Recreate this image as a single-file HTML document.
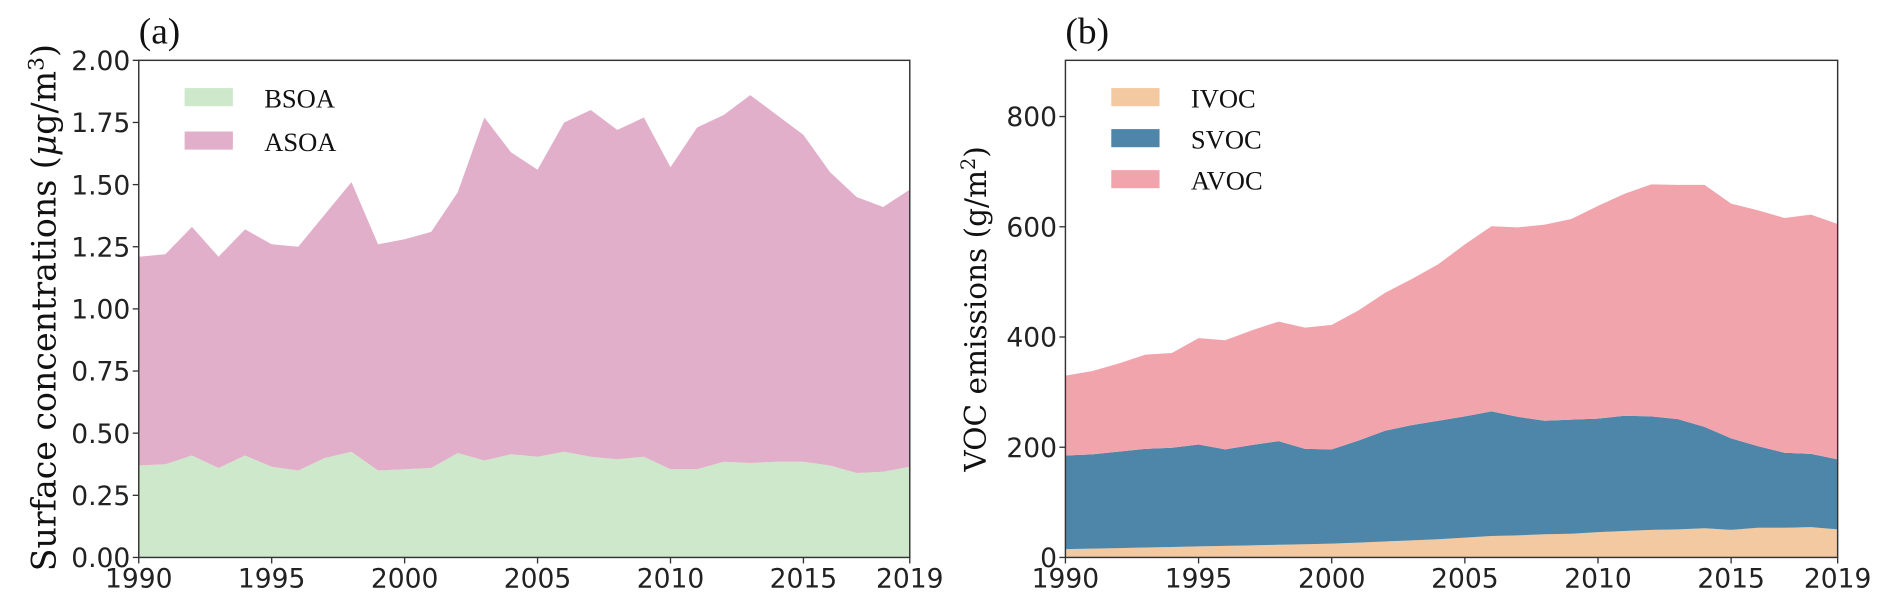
<!DOCTYPE html>
<html><head><meta charset="utf-8"><style>body{margin:0;background:#fff}svg{display:block}</style></head>
<body>
<svg id="c" width="1892" height="609" xmlns="http://www.w3.org/2000/svg">
<g transform="scale(1.2066)">
<g id="pa"></g>
<g id="pb"></g>
</g>
</svg>
<script>
const years = [1990,1991,1992,1993,1994,1995,1996,1997,1998,1999,2000,2001,2002,2003,2004,2005,2006,2007,2008,2009,2010,2011,2012,2013,2014,2015,2016,2017,2018,2019];
const bsoa = [0.37,0.375,0.41,0.36,0.41,0.365,0.35,0.40,0.425,0.35,0.355,0.36,0.42,0.39,0.415,0.405,0.425,0.405,0.395,0.405,0.355,0.355,0.385,0.38,0.385,0.385,0.37,0.34,0.345,0.365];
const asoa = [0.84,0.845,0.92,0.85,0.91,0.895,0.90,0.98,1.085,0.91,0.925,0.95,1.05,1.38,1.215,1.155,1.325,1.395,1.325,1.365,1.215,1.375,1.395,1.48,1.395,1.315,1.18,1.11,1.065,1.115];
const ivoc = [15,16,17,18,19,20,21,22,23,24,25,27,29,31,33,36,39,40,42,43,46,48,50,51,53,50,54,54,55,51];
const svoc = [170,171,175,179,180,185,175,182,188,173,171,185,201,209,215,220,226,215,206,207,206,209,206,200,184,166,148,136,133,127];
const avoc = [145,151,160,171,172,193,198,208,217,220,226,236,250,265,284,312,336,344,356,364,386,403,421,425,439,426,428,426,434,427];
const xTicks = [1990,1995,2000,2005,2010,2015,2019];
const yTicksA = ["0.00","0.25","0.50","0.75","1.00","1.25","1.50","1.75","2.00"];
const yTicksB = [0,200,400,600,800];

const NS="http://www.w3.org/2000/svg";
function mk(parent,tag,attrs,text){const e=document.createElementNS(NS,tag);for(const k in attrs)e.setAttribute(k,attrs[k]);if(text!==undefined)e.textContent=text;parent.appendChild(e);return e;}
const SANS='"DejaVu Sans","Liberation Sans",sans-serif', SERIF='"Liberation Serif","DejaVu Serif",serif', DSERIF='"DejaVu Serif","Liberation Serif",serif';

function panel(g,cfg){
  const {x0,x1,y0,y1,ymax}=cfg;
  const sx=v=>x0+(v-1990)/(2019-1990)*(x1-x0);
  const sy=v=>y1-v/ymax*(y1-y0);
  let base=years.map(()=>0);
  cfg.series.forEach(s=>{
    const top=base.map((b,i)=>b+s.vals[i]);
    let d='M'+years.map((y,i)=>sx(y)+','+sy(top[i])).join('L');
    for(let i=years.length-1;i>=0;i--) d+='L'+sx(years[i])+','+sy(base[i]);
    const p=mk(g,'path',{d:d+'Z',fill:s.color});
    
    
    base=top;
  });
  const fr=mk(g,'rect',{x:x0,y:y0,width:x1-x0,height:y1-y0,fill:'none',stroke:'#333','stroke-width':1.2});
  
  
  xTicks.forEach(t=>{
    mk(g,'line',{x1:sx(t),x2:sx(t),y1:y1,y2:y1+5,stroke:'#333','stroke-width':1.1});
    const tx=mk(g,'text',{x:sx(t),y:y1+25,'text-anchor':'middle','font-family':SANS,'font-size':22,fill:'#222'},t);
    
    
  });
  cfg.yt.forEach(t=>{
    const v=parseFloat(t);
    mk(g,'line',{x1:x0-5,x2:x0,y1:sy(v),y2:sy(v),stroke:'#333','stroke-width':1.1});
    const tx=mk(g,'text',{x:x0-7,y:sy(v)+8,'text-anchor':'end','font-family':SANS,'font-size':22,fill:'#222'},String(t));
    
    
  });
  const lbl=mk(g,'text',{x:x0,y:y0-14,'font-family':SERIF,'font-size':31,fill:'#111'},cfg.label);
  
  
  const yl=mk(g,'text',{transform:`translate(${cfg.ylx},${cfg.ylc}) rotate(-90)`,'text-anchor':'middle','font-family':DSERIF,'font-size':cfg.ylfs,fill:'#111'});
  yl.innerHTML=cfg.ytitle;
  
  
  cfg.series.forEach((s,i)=>{
    const ly=cfg.legY+i*cfg.legDy;
    const r=mk(g,'rect',{x:x0+cfg.legX,y:ly-9,width:40,height:15,fill:s.color});
    
    
    const t=mk(g,'text',{x:x0+cfg.legX+66,y:ly+7,'font-family':SERIF,'font-size':22,fill:'#111'},s.label);
    
    
  });
}
panel(document.getElementById('pa'),{x0:115,x1:754,y0:50,y1:462,ymax:2.0,yt:yTicksA,label:'(a)',ylx:46,ylc:255,ylfs:27.5,
  ytitle:'Surface concentrations (<tspan font-style="italic">μ</tspan>g/m<tspan baseline-shift="super" font-size="18">3</tspan>)',
  legX:38,legY:82,legDy:36,
  series:[{name:'bsoa',label:'BSOA',vals:bsoa,color:'#cde8cb'},{name:'asoa',label:'ASOA',vals:asoa,color:'#e2afca'}]});
panel(document.getElementById('pb'),{x0:883,x1:1523,y0:50,y1:462,ymax:902,yt:yTicksB,label:'(b)',ylx:817,ylc:256,ylfs:24.5,
  ytitle:'VOC emissions (g/m<tspan baseline-shift="super" font-size="16">2</tspan>)',
  legX:38,legY:82,legDy:34,
  series:[{name:'ivoc',label:'IVOC',vals:ivoc,color:'#f2c9a0'},{name:'svoc',label:'SVOC',vals:svoc,color:'#4d86a8'},{name:'avoc',label:'AVOC',vals:avoc,color:'#f2a4ad'}]});
</script>
</body></html>
